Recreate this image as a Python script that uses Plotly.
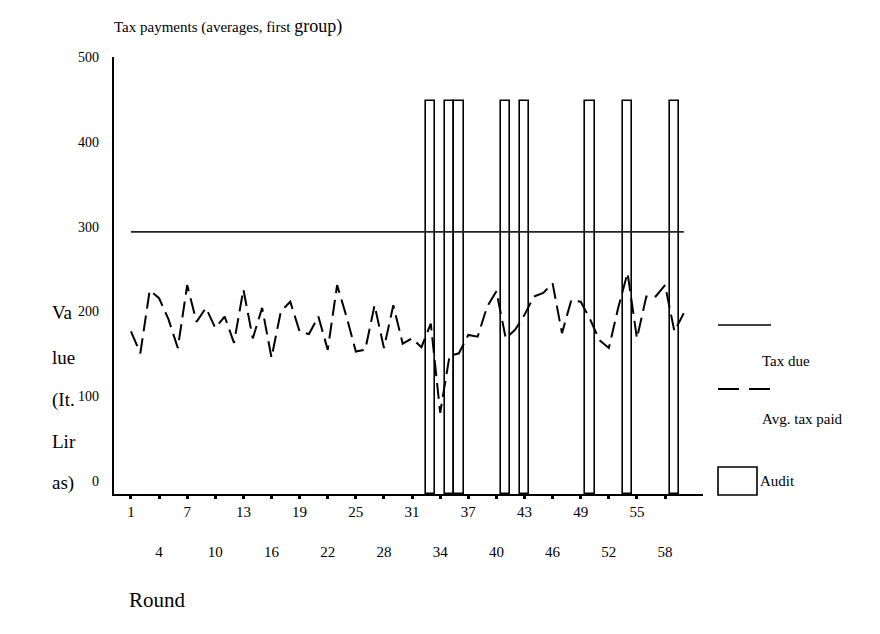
import plotly.graph_objects as go

# ---------------- data ----------------
rounds = list(range(1, 61))
avg_tax_paid = [186, 161, 233, 224, 200, 167, 239, 197, 213, 190,
                203, 173, 234, 178, 213, 156, 209, 220, 186, 183,
                203, 165, 239, 203, 163, 165, 216, 167, 216, 172,
                178, 168, 195, 93, 158, 161, 182, 180, 214, 232,
                178, 188, 205, 226, 230, 241, 184, 222, 220, 200,
                176, 167, 213, 253, 178, 226, 226, 239, 186, 207]
tax_due = [300, 300, 300, 300, 300, 300, 300, 300, 300, 300,
           300, 300, 300, 300, 300, 300, 300, 300, 300, 300,
           300, 300, 300, 300, 300, 300, 300, 300, 300, 300,
           300, 300, 300, 300, 300, 300, 300, 300, 300, 300,
           300, 300, 300, 300, 300, 300, 300, 300, 300, 300,
           300, 300, 300, 300, 300, 300, 300, 300, 300, 300]
audit_rounds = [33, 35, 36, 41, 43, 50, 54, 59]
audit_height = [450, 450, 450, 450, 450, 450, 450, 450]

tick_row1 = [1, 7, 13, 19, 25, 31, 37, 43, 49, 55]
tick_row2 = [4, 10, 16, 22, 28, 34, 40, 46, 52, 58]
y_ticks = [0, 100, 200, 300, 400, 500]

title_main = "Tax payments (averages, first "
title_tail = "group)"
y_title_lines = ["Va", "lue", "(It.", "Lir", "as)"]
x_title = "Round"
legend_names = ["Tax due", "Avg. tax paid", "Audit"]

FONT = "Liberation Serif, Times New Roman, serif"

# the page body adds an 8px offset; plot area is meant to span x 114..703, y 57..494
OFF = 8
L, R, T, B = 114, 703, 57, 494
PW, PH = R - L, B - T

fig = go.Figure()

fig.add_trace(go.Bar(
    x=audit_rounds, y=audit_height, width=1,
    marker=dict(color="rgba(255,255,255,0)", line=dict(color="black", width=1.6)),
    name=legend_names[2], showlegend=False,
))
fig.add_trace(go.Scatter(
    x=rounds, y=tax_due, mode="lines",
    line=dict(color="#222222", width=1.8),
    name=legend_names[0], showlegend=False,
))
fig.add_trace(go.Scatter(
    x=rounds, y=avg_tax_paid, mode="lines",
    line=dict(color="black", width=2, dash="16px,7px"),
    name=legend_names[1], showlegend=False,
))
# helper invisible traces so the label-only overlay axes are rendered
fig.add_trace(go.Scatter(x=[None], y=[None], xaxis="x2", yaxis="y",
                         showlegend=False, hoverinfo="skip"))
fig.add_trace(go.Scatter(x=[None], y=[None], xaxis="x", yaxis="y2",
                         showlegend=False, hoverinfo="skip"))

all_ticks = sorted(tick_row1 + tick_row2)
fig.update_layout(
    width=880, height=634,
    margin=dict(l=L - OFF, r=880 - R + OFF, t=T - OFF, b=634 - B + OFF),
    paper_bgcolor="white", plot_bgcolor="white",
    font=dict(family=FONT, size=14, color="black"),
    bargap=0,
    title=dict(
        text=title_main + "<span style='font-size:18px'>" + title_tail + "</span>",
        x=0, xref="paper", xanchor="left",
        y=1 - (27 - OFF) / 634, yref="container", yanchor="middle",
        font=dict(family=FONT, size=15, color="black"),
    ),
    xaxis=dict(
        range=[-0.81, 62.05], showgrid=False, zeroline=False,
        showline=True, linecolor="black", linewidth=2,
        tickmode="array", tickvals=all_ticks,
        ticktext=[str(t) if t in tick_row1 else "" for t in all_ticks],
        ticks="outside", ticklen=3, tickwidth=3, tickcolor="black",
        tickfont=dict(family=FONT, size=15),
    ),
    xaxis2=dict(
        overlaying="x", matches="x", anchor="y", side="bottom",
        showgrid=False, zeroline=False, showline=False,
        tickmode="array", tickvals=tick_row2,
        ticktext=[str(t) for t in tick_row2],
        ticks="", ticklabelstandoff=47,
        tickfont=dict(family=FONT, size=15),
    ),
    yaxis=dict(
        range=[0, 500], showgrid=False, zeroline=False,
        showline=True, linecolor="black", linewidth=1.5,
        showticklabels=False, ticks="",
    ),
    yaxis2=dict(
        overlaying="y", anchor="x", side="left",
        range=[-15.33, 500.2], showgrid=False, zeroline=False, showline=False,
        tickmode="array", tickvals=y_ticks,
        ticktext=[str(v) for v in y_ticks],
        ticks="", ticklabelstandoff=14,
        tickfont=dict(family=FONT, size=14),
    ),
)


def px(x):
    return (x - L) / PW


def py_(y):
    return (B - y) / PH


# axis titles
y_line_pos = [312, 357, 400, 441, 483]
for txt, yy in zip(y_title_lines, y_line_pos):
    fig.add_annotation(text=txt, xref="paper", yref="paper",
                       x=px(50), y=py_(yy),
                       xanchor="left", yanchor="middle", showarrow=False,
                       font=dict(family=FONT, size=19))
fig.add_annotation(text=x_title, xref="paper", yref="paper",
                   x=px(127), y=py_(600),
                   xanchor="left", yanchor="middle", showarrow=False,
                   font=dict(family=FONT, size=21))

# legend (drawn manually to mimic the original layout)
fig.add_shape(type="line", xref="paper", yref="paper",
              x0=px(718), x1=px(771), y0=py_(325), y1=py_(325),
              line=dict(color="black", width=1.6))
fig.add_shape(type="line", xref="paper", yref="paper",
              x0=px(718), x1=px(771), y0=py_(389), y1=py_(389),
              line=dict(color="black", width=2, dash="21px,10px"))
fig.add_shape(type="rect", xref="paper", yref="paper",
              x0=px(718), x1=px(757), y0=py_(495), y1=py_(467),
              line=dict(color="black", width=1.6), fillcolor="white")
for txt, lx, ly in [(legend_names[0], 760, 361),
                    (legend_names[1], 760, 419),
                    (legend_names[2], 758, 481)]:
    fig.add_annotation(text=txt, xref="paper", yref="paper",
                       x=px(lx), y=py_(ly), xanchor="left", yanchor="middle",
                       showarrow=False, font=dict(family=FONT, size=15))

fig.write_html("out.html")
